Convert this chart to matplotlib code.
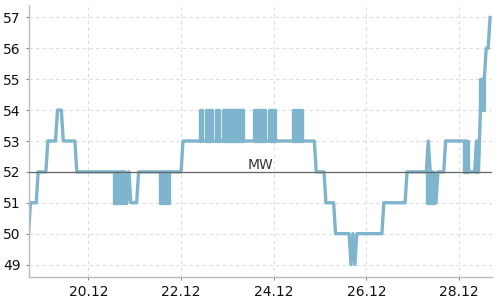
import numpy as np
import pandas as pd
import matplotlib
import matplotlib.pyplot as plt
import matplotlib.dates as mdates
import matplotlib.transforms as mtransforms

matplotlib.use('Agg')

# hourly readings, starting 18.12. 17:00
start = '2023-12-18 17:00'
values = [
    50, 51, 51, 51, 51, 52, 52, 52, 52, 52, 53, 53, 53, 53, 53, 54, 54, 54,
    53, 53, 53, 53, 53, 53, 53,
    52, 52, 52, 52, 52, 52, 52, 52, 52, 52, 52, 52, 52, 52, 52, 52, 52, 52, 52,
    52, 52, 52, 52, 52, 52, 52, 51,
    52, 51, 51, 51, 51, 52, 52, 52, 52, 52, 52, 52, 52, 52, 52, 52,
    52, 52, 52, 52, 52, 52, 52, 52, 52, 52, 52, 52,
    53, 53, 53, 53, 53, 53, 53, 53, 53, 53, 53, 53, 53, 53, 53, 53,
    53, 53, 53, 53, 53, 53, 53, 53, 53, 53, 53, 53, 53, 53, 53, 53,
    53, 53, 53, 53, 53, 53, 53, 53, 53, 53, 53, 53, 53, 53, 53, 53, 53,
    53, 53, 53, 53, 53, 53, 53, 53, 53, 53, 53, 53, 53, 53, 53, 53, 53, 53, 53, 53,
    52, 52, 52, 52, 52, 51, 51, 51, 51, 51,
    50, 50, 50, 50, 50, 50, 50, 50, 49, 50, 49,
    50, 50, 50, 50, 50, 50, 50, 50, 50, 50, 50, 50, 50, 50,
    51, 51, 51, 51, 51, 51, 51, 51, 51, 51, 51, 51,
    52, 52, 52, 52, 52, 52, 52, 52, 52, 52,
    52, 53, 52, 52, 51, 51, 52, 52, 52, 52,
    53, 53, 53, 53, 53, 53, 53, 53, 53,
    53, 53, 53, 52, 52, 52, 52, 53, 52,
    54, 55, 55, 56, 56, 57,
]
# stretches where the reading flickered between two levels:
# (from hour, to hour, low, high)
flicker = [
    (44.3, 50.6, 51, 52),
    (68.0, 73.0, 51, 52),
    (88.9, 89.6, 53, 54),
    (91.8, 94.9, 53, 54),
    (97.1, 98.4, 53, 54),
    (100.6, 110.9, 53, 54),
    (116.8, 122.4, 53, 54),
    (124.6, 127.8, 53, 54),
    (137.2, 141.8, 53, 54),
    (206.3, 209.8, 51, 52),
    (225.5, 227.7, 52, 53),
    (231.6, 232.4, 52, 53),
    (234.0, 236.0, 54, 55),
]
mean_value = 52
mean_label = 'MW'
y_ticks = [49, 50, 51, 52, 53, 54, 55, 56, 57]
x_ticks = ['2023-12-20', '2023-12-22', '2023-12-24', '2023-12-26', '2023-12-28']

color = '#7eb4cc'
t0 = pd.Timestamp(start)
times = pd.date_range(start, periods=len(values), freq='h')

fig = plt.figure(figsize=(5, 3), dpi=100)
ax = fig.add_axes([0.057, 0.077, 0.927, 0.906])

ax.plot(times, values, color=color, lw=2.4, zorder=2)
for h0, h1, lo, hi in flicker:
    xs = [t0 + pd.Timedelta(hours=h0), t0 + pd.Timedelta(hours=h1)]
    ax.fill_between(xs, lo, hi, facecolor=color, edgecolor=color, lw=2.4, zorder=2)
ax.axhline(mean_value, color='#666666', lw=0.9, zorder=3)

trans = mtransforms.blended_transform_factory(ax.transAxes, ax.transData)
ax.annotate(mean_label, xy=(0.5, mean_value), xycoords=trans,
            xytext=(0, 2.2), textcoords='offset points',
            ha='center', va='baseline', fontsize=10, color='#333333')

ax.set_xlim(t0, t0 + pd.Timedelta(hours=240))
ax.set_ylim(48.6, 57.4)
ax.set_yticks(y_ticks)
ax.set_xticks(pd.to_datetime(x_ticks))
ax.xaxis.set_major_formatter(mdates.DateFormatter('%d.%m'))

ax.grid(True, color='#dddddd', ls=(0, (3, 3)), lw=0.8, zorder=0)
for s in ['top', 'right']:
    ax.spines[s].set_visible(False)
for s in ['left', 'bottom']:
    ax.spines[s].set_color('#bbbbbb')
    ax.spines[s].set_linewidth(1)
ax.tick_params(axis='both', length=2.5, width=0.8, color='#888888',
               labelsize=10, labelcolor='#111111', pad=3)

fig.savefig('out.png', dpi=100)
